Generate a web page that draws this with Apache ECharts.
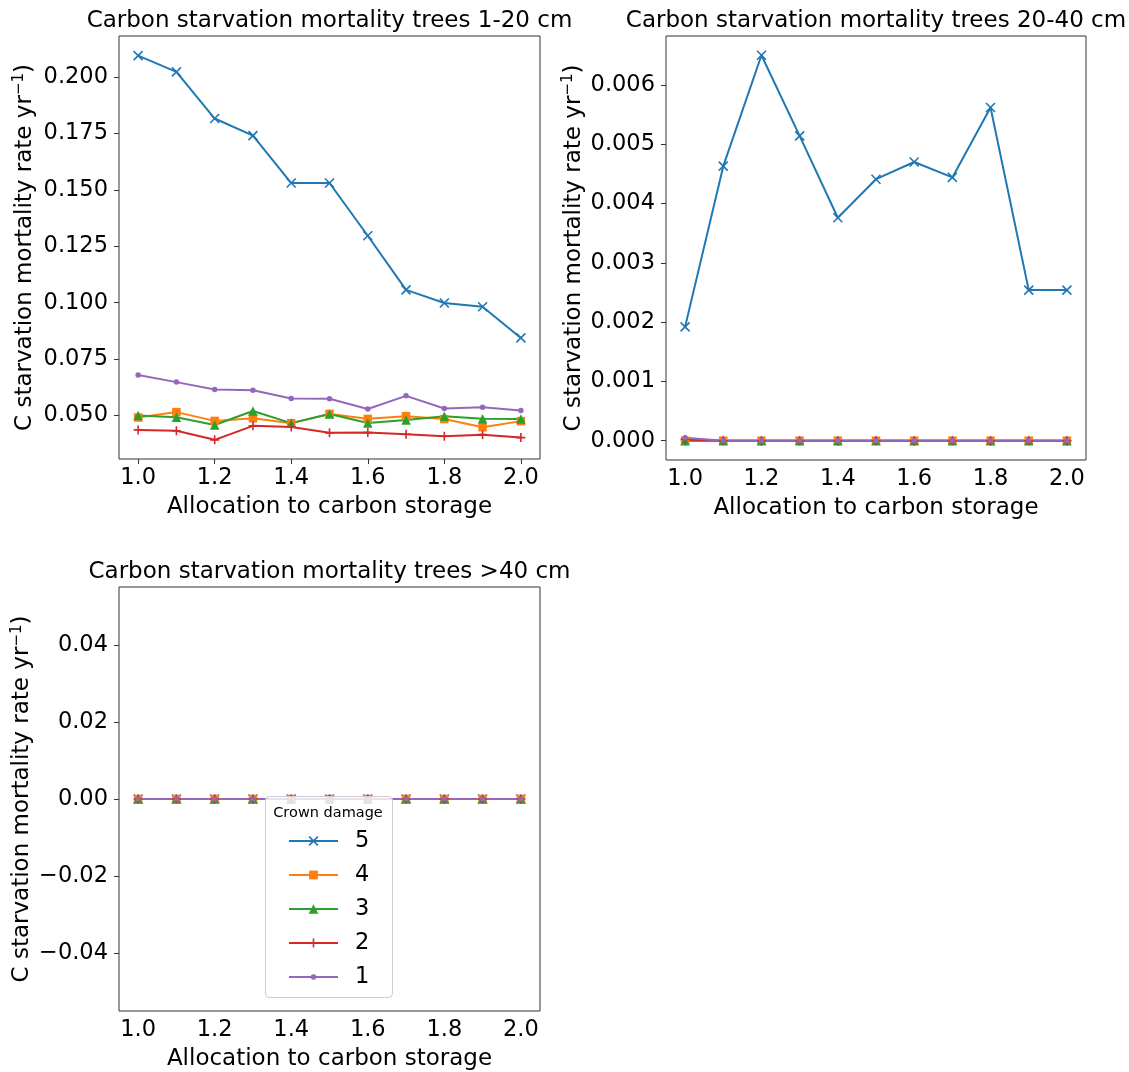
<!DOCTYPE html>
<html>
<head>
<meta charset="utf-8">
<script src="https://cdn.jsdelivr.net/npm/echarts@6/dist/echarts.min.js"></script>
<style>
html,body{margin:0;padding:0;background:#fff;}
#chart{width:1129px;height:1072px;}
</style>
</head>
<body>
<div id="chart"></div>
<script>
// ---------- DATA ----------
const allocation = [1.0, 1.1, 1.2, 1.3, 1.4, 1.5, 1.6, 1.7, 1.8, 1.9, 2.0];
const xTickValues = [1.0, 1.2, 1.4, 1.6, 1.8, 2.0];

const seriesNames = ['5', '4', '3', '2', '1'];

// Panel 1: trees 1-20 cm
const p1_cd5 = [0.2096, 0.2024, 0.1817, 0.1741, 0.1531, 0.1531, 0.1297, 0.1057, 0.0999, 0.0982, 0.0844];
const p1_cd4 = [0.0491, 0.0515, 0.0476, 0.0488, 0.0466, 0.0507, 0.0485, 0.0497, 0.0484, 0.0448, 0.0475];
const p1_cd3 = [0.0500, 0.0492, 0.0458, 0.0520, 0.0466, 0.0507, 0.0467, 0.0480, 0.0497, 0.0486, 0.0484];
const p1_cd2 = [0.0436, 0.0432, 0.0392, 0.0454, 0.0449, 0.0423, 0.0424, 0.0417, 0.0408, 0.0415, 0.0402];
const p1_cd1 = [0.0680, 0.0648, 0.0615, 0.0612, 0.0575, 0.0574, 0.0529, 0.0587, 0.0531, 0.0537, 0.0522];

// Panel 2: trees 20-40 cm
const p2_cd5 = [0.00192, 0.00463, 0.00650, 0.00514, 0.00376, 0.00441, 0.00470, 0.00444, 0.00562, 0.00254, 0.00254];
const p2_cd4 = [0, 0, 0, 0, 0, 0, 0, 0, 0, 0, 0];
const p2_cd3 = [0, 0, 0, 0, 0, 0, 0, 0, 0, 0, 0];
const p2_cd2 = [0.00002, 0, 0, 0, 0, 0, 0, 0, 0, 0, 0];
const p2_cd1 = [0.00005, 0, 0, 0, 0, 0, 0, 0, 0, 0, 0];

// Panel 3: trees >40 cm
const p3_cd5 = [0, 0, 0, 0, 0, 0, 0, 0, 0, 0, 0];
const p3_cd4 = [0, 0, 0, 0, 0, 0, 0, 0, 0, 0, 0];
const p3_cd3 = [0, 0, 0, 0, 0, 0, 0, 0, 0, 0, 0];
const p3_cd2 = [0, 0, 0, 0, 0, 0, 0, 0, 0, 0, 0];
const p3_cd1 = [0, 0, 0, 0, 0, 0, 0, 0, 0, 0, 0];

const yTicks1 = [0.050, 0.075, 0.100, 0.125, 0.150, 0.175, 0.200];
const yTicks2 = [0.000, 0.001, 0.002, 0.003, 0.004, 0.005, 0.006];
const yTicks3 = [-0.04, -0.02, 0.00, 0.02, 0.04];

const titles = [
  'Carbon starvation mortality trees 1-20 cm',
  'Carbon starvation mortality trees 20-40 cm',
  'Carbon starvation mortality trees >40 cm'
];
const xAxisTitle = 'Allocation to carbon storage';
const yAxisTitle = 'C starvation mortality rate yr{sup|\u22121})';
const legendTitle = 'Crown damage';

// ---------- STYLE ----------
const FONT = 'DejaVu Sans';
const FS = 22.5;   // tick / legend labels
const FT = 23;     // titles / axis names
const colors = {'5': '#1f77b4', '4': '#ff7f0e', '3': '#2ca02c', '2': '#d62728', '1': '#9467bd'};
const symbols = {
  '5': 'path://M0,0L10,10M0,10L10,0',
  '4': 'rect',
  '3': 'triangle',
  '2': 'path://M5,0L5,10M0,5L10,5',
  '1': 'circle'
};
const symbolSizes = {'5': 9, '4': 8.5, '3': 9.5, '2': 9, '1': 5.5};
const strokeSymbols = {'5': true, '2': true};

const grids = [
  {left: 119, top: 36, width: 421, height: 423},
  {left: 666, top: 36, width: 420, height: 424},
  {left: 119, top: 587, width: 421, height: 424}
];

function fmtY(dec) {
  return function (v) {
    if (Math.abs(v) < 1e-12) return (0).toFixed(dec);
    return v < 0 ? '\u2212' + Math.abs(v).toFixed(dec) : v.toFixed(dec);
  };
}

const yRanges = [
  {min: 0.0307, max: 0.2183, ticks: yTicks1, dec: 3, gap: 81},
  {min: -0.000325, max: 0.006825, ticks: yTicks2, dec: 3, gap: 67},
  {min: -0.055, max: 0.055, ticks: yTicks3, dec: 2, gap: 81}
];

const panelData = [
  {'5': p1_cd5, '4': p1_cd4, '3': p1_cd3, '2': p1_cd2, '1': p1_cd1},
  {'5': p2_cd5, '4': p2_cd4, '3': p2_cd3, '2': p2_cd2, '1': p2_cd1},
  {'5': p3_cd5, '4': p3_cd4, '3': p3_cd3, '2': p3_cd2, '1': p3_cd1}
];

const xAxes = grids.map((g, i) => ({
  type: 'value', gridIndex: i, min: 0.95, max: 2.05,
  name: xAxisTitle, nameLocation: 'middle', nameGap: 37,
  nameTextStyle: {fontFamily: FONT, fontSize: FT, color: '#000'},
  axisLine: {show: false},
  splitLine: {show: false},
  axisTick: {show: true, length: 5, customValues: xTickValues, lineStyle: {color: '#333', width: 1}},
  axisLabel: {customValues: xTickValues, formatter: v => v.toFixed(1), fontFamily: FONT, fontSize: FS, color: '#000', margin: 8}
}));

const yAxes = yRanges.map((r, i) => ({
  type: 'value', gridIndex: i, min: r.min, max: r.max,
  name: yAxisTitle, nameLocation: 'middle', nameGap: r.gap, nameRotate: 90,
  nameTextStyle: {fontFamily: FONT, fontSize: FT, color: '#000', lineHeight: 26,
    rich: {sup: {fontFamily: FONT, fontSize: 15, color: '#000', verticalAlign: 'top', lineHeight: 16}}},
  axisLine: {show: false},
  splitLine: {show: false},
  axisTick: {show: true, length: 5, customValues: r.ticks, lineStyle: {color: '#333', width: 1}},
  axisLabel: {customValues: r.ticks, formatter: fmtY(r.dec), fontFamily: FONT, fontSize: FS, color: '#000', margin: 11}
}));

const series = [];
panelData.forEach((pd, pi) => {
  seriesNames.forEach(name => {
    const c = colors[name];
    series.push({
      type: 'line', name: name, xAxisIndex: pi, yAxisIndex: pi,
      data: allocation.map((x, k) => [x, pd[name][k]]),
      symbol: symbols[name], symbolSize: symbolSizes[name],
      showSymbol: true,
      lineStyle: {color: c, width: 2},
      itemStyle: strokeSymbols[name]
        ? {color: c, borderColor: c, borderWidth: 1.6}
        : {color: c, borderColor: c, borderWidth: 0},
      emphasis: {disabled: true},
      animation: false
    });
  });
});

// Legend: one legend per entry for individual marker sizes
const legendRows = {'5': 841, '4': 875, '3': 909, '2': 943, '1': 977};
const legendItemHeights = {'5': 11, '4': 11, '3': 12, '2': 11, '1': 7};
const legends = seriesNames.map(name => {
  const c = colors[name];
  return {
    data: [name], left: 288, top: legendRows[name] - 12, padding: 0,
    orient: 'vertical', selectedMode: false,
    itemWidth: 49, itemHeight: legendItemHeights[name],
    z: 30,
    lineStyle: {color: c, width: 2},
    itemStyle: strokeSymbols[name]
      ? {color: c, borderColor: c, borderWidth: 1.6}
      : {color: c, borderColor: c, borderWidth: 0},
    textStyle: {fontFamily: FONT, fontSize: FS, color: '#000', lineHeight: 24, padding: [0, 0, 0, 12]}
  };
});

const titleComps = titles.map((t, i) => ({
  text: t, left: grids[i].left + grids[i].width / 2, top: grids[i].top - 26, padding: 0,
  textAlign: 'center',
  textStyle: {fontFamily: FONT, fontSize: FT, fontWeight: 'normal', color: '#000'}
}));

const gridOpts = grids.map(g => Object.assign({show: true, borderColor: '#333', borderWidth: 1, backgroundColor: 'transparent'}, g));

const chart = echarts.init(document.getElementById('chart'), null, {renderer: 'canvas'});
chart.setOption({
  backgroundColor: '#fff',
  animation: false,
  title: titleComps,
  grid: gridOpts,
  xAxis: xAxes,
  yAxis: yAxes,
  legend: legends,
  series: series,
  graphic: [
    {type: 'rect', z: 20, shape: {x: 265.5, y: 796.5, width: 127, height: 201, r: 4},
      style: {fill: 'rgba(255,255,255,0.8)', stroke: '#cccccc', lineWidth: 1}},
    {type: 'text', z: 21, x: 328, y: 813,
      style: {text: legendTitle, fontFamily: FONT, fontSize: 14.5, fill: '#000', textAlign: 'center', textVerticalAlign: 'middle'}}
  ]
});
</script>
</body>
</html>
